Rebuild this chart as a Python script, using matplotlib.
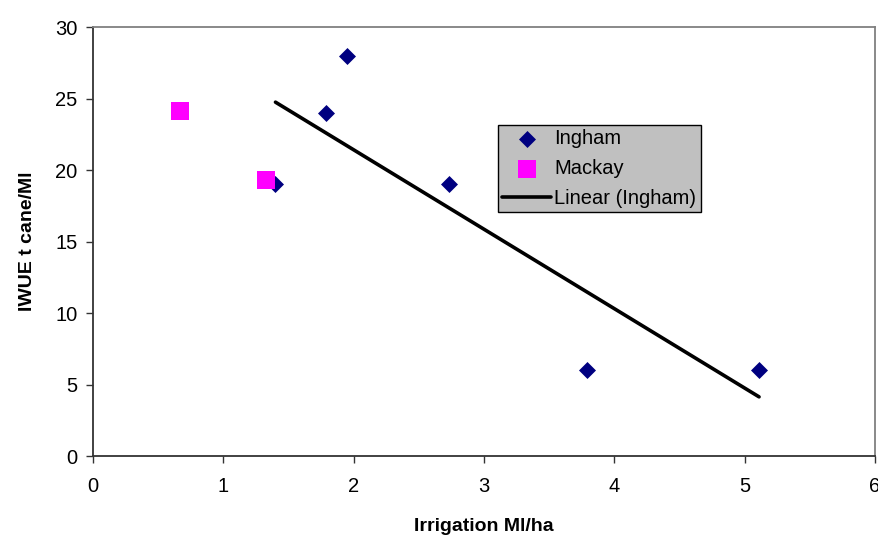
import numpy as np
import matplotlib.pyplot as plt

plt.rcParams['font.family'] = ['Liberation Sans', 'DejaVu Sans']

# irrigation (Ml/ha) and IWUE (t cane/Ml) per district
ingham_x = [1.40, 1.79, 1.95, 2.73, 3.79, 5.11]
ingham_y = [19, 24, 28, 19, 6, 6]
mackay_x = [0.67, 1.33]
mackay_y = [24.1, 19.3]

xticks = [0, 1, 2, 3, 4, 5, 6]
yticks = [0, 5, 10, 15, 20, 25, 30]

fig = plt.figure(figsize=(8.79, 5.36), dpi=100)
ax = fig.add_axes([0.1058, 0.149, 0.8897, 0.8006])

# least squares trend through the Ingham points
slope, icept = np.polyfit(ingham_x, ingham_y, 1)
fx = np.array([min(ingham_x), max(ingham_x)])

ax.scatter(ingham_x, ingham_y, marker='D', s=75, color='#000080', linewidths=0,
           label='Ingham', zorder=3)
ax.scatter(mackay_x, mackay_y, marker='s', s=170, color='#ff00ff', linewidths=0,
           label='Mackay', zorder=4)
ax.plot(fx, slope * fx + icept, color='black', lw=2.6, solid_capstyle='round',
        label='Linear (Ingham)', zorder=5)

ax.set_xlim(0, 6)
ax.set_ylim(0, 30)
ax.set_xticks(xticks)
ax.set_yticks(yticks)
ax.tick_params(direction='out', length=5, width=1, labelsize=14.5, color='#333333')
ax.tick_params(axis='x', pad=10)
ax.tick_params(axis='y', pad=6)

for side in ['left', 'bottom']:
    ax.spines[side].set_color('#333333')
    ax.spines[side].set_linewidth(1.3)
for side in ['top', 'right']:
    ax.spines[side].set_color('#808080')
    ax.spines[side].set_linewidth(1.3)

ax.set_xlabel('Irrigation Ml/ha', fontsize=14, fontweight='bold', labelpad=16)
ax.set_ylabel('IWUE t cane/Ml', fontsize=14, fontweight='bold', labelpad=14)

leg = ax.legend(loc='upper left', bbox_to_anchor=(0.518, 0.7716), fontsize=14.5,
                frameon=True, fancybox=False, framealpha=1, borderpad=0.2,
                handlelength=2.45, handletextpad=0.15, labelspacing=0.55,
                borderaxespad=0)
leg.get_frame().set_facecolor('#c0c0c0')
leg.get_frame().set_edgecolor('black')
leg.get_frame().set_linewidth(1)

fig.savefig('out.png', dpi=100)
